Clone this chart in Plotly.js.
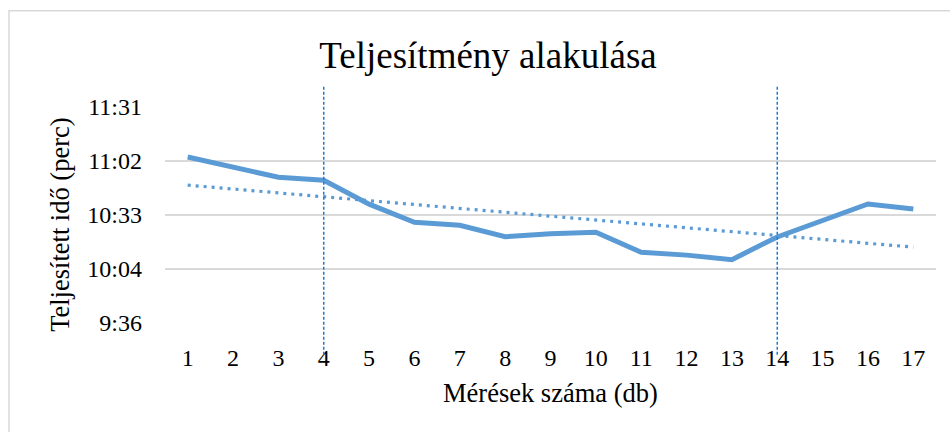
<!DOCTYPE html>
<html>
<head>
<meta charset="utf-8">
<script src="https://cdn.plot.ly/plotly-3.0.1.min.js"></script>
<style>
  html, body { margin: 0; padding: 0; overflow: hidden; background: #fff; }
  #chart { width: 950px; height: 432px; }
</style>
</head>
<body>
<div id="chart"></div>
<script>
// Measurement number (db)
const measurements = [1, 2, 3, 4, 5, 6, 7, 8, 9, 10, 11, 12, 13, 14, 15, 16, 17];
// Completed time in seconds (displayed as m:ss)
const timeSeconds = [664.5, 658.8, 653.7, 652.1, 639.4, 629.7, 628.1, 622.0, 623.6, 624.4,
                     613.7, 612.2, 609.8, 621.9, 630.6, 639.5, 636.8];
// Y axis ticks
const yTickVals = [576, 604.8, 633.6, 662.4, 691.2];
const yTickText = ["9:36", "10:04", "10:33", "11:02", "11:31"];
// Marker lines at measurements
const markerLines = [4, 14];

// Linear trendline (least squares) computed from the data
const n = measurements.length;
const mx = measurements.reduce((a, b) => a + b, 0) / n;
const my = timeSeconds.reduce((a, b) => a + b, 0) / n;
let sxy = 0, sxx = 0;
for (let i = 0; i < n; i++) {
  sxy += (measurements[i] - mx) * (timeSeconds[i] - my);
  sxx += (measurements[i] - mx) * (measurements[i] - mx);
}
const slope = sxy / sxx;
const trend = measurements.map(x => my + slope * (x - mx));

const blue = '#5B9BD5';
const font = 'Liberation Serif';

const traces = [
  { x: measurements, y: timeSeconds, mode: 'lines',
    line: { color: blue, width: 5 } },
  { x: measurements, y: trend, mode: 'lines',
    line: { color: blue, width: 3.2, dash: '3px,5px' } }
];

const shapes = markerLines.map(v => ({
  type: 'line', xref: 'x', yref: 'paper', x0: v, x1: v, y0: -0.147, y1: 1.103,
  line: { color: '#1F7BD0', width: 1.5, dash: '3px,2px' }, layer: 'above'
}));
// chart frame
shapes.push({
  type: 'rect', xref: 'paper', yref: 'paper', x0: -0.2023, x1: 1.1, y0: -0.7, y1: 1.4458,
  line: { color: '#D9D9D9', width: 1.5 }, fillcolor: 'rgba(0,0,0,0)', layer: 'below'
});

const layout = {
  width: 950, height: 432,
  margin: { l: 165, r: 14, t: 107, b: 109 },
  showlegend: false,
  font: { family: font, color: '#000000', size: 24 },
  title: { text: 'Teljesítmény alakulása', font: { family: font, size: 37, color: '#000000' },
           xref: 'container', yref: 'container', x: 0.5137, y: 0.873,
           xanchor: 'center', yanchor: 'middle' },
  xaxis: {
    range: [0.5, 17.5], tickmode: 'array', tickvals: measurements,
    ticktext: measurements.map(String), showgrid: false, zeroline: false,
    showline: false, ticks: '', ticklabelstandoff: 18,
    tickfont: { family: font, size: 24, color: '#000000' }
  },
  yaxis: {
    range: [576, 691.2], tickmode: 'array', tickvals: yTickVals, ticktext: yTickText,
    showgrid: true, gridcolor: '#D9D9D9', gridwidth: 1.3, zeroline: false,
    showline: false, ticks: '', ticklabelstandoff: 22,
    tickfont: { family: font, size: 24, color: '#000000' }
  },
  shapes: shapes,
  annotations: [
    { text: 'Mérések száma (db)', xref: 'paper', yref: 'paper', x: 0.5, y: -0.3227,
      xanchor: 'center', yanchor: 'middle', showarrow: false,
      font: { family: font, size: 26.5, color: '#000000' } },
    { text: 'Teljesített idő (perc)', xref: 'paper', yref: 'paper', x: -0.136, y: 0.455,
      xanchor: 'center', yanchor: 'middle', textangle: -90, showarrow: false,
      font: { family: font, size: 26.5, color: '#000000' } }
  ]
};

Plotly.newPlot('chart', traces, layout, { staticPlot: true });
</script>
</body>
</html>
